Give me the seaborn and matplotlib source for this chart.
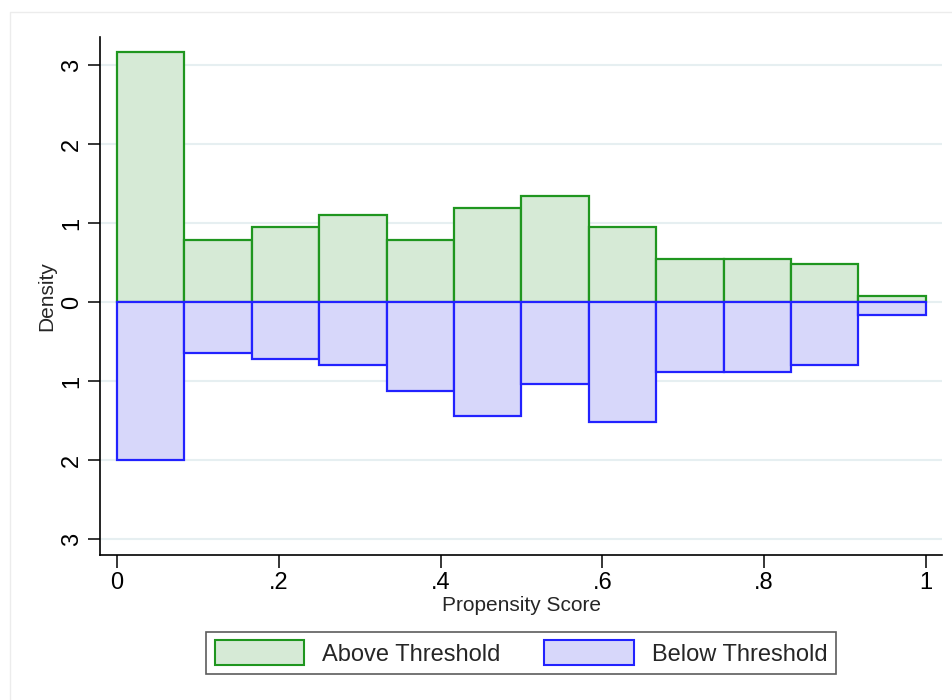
import numpy as np
import pandas as pd
import matplotlib
matplotlib.use("Agg")
import matplotlib.pyplot as plt
from matplotlib.patches import Patch, Rectangle
import seaborn as sns

# ---- data ----
bin_edges = [i / 12 for i in range(13)]
above_density = [3.17, 0.79, 0.95, 1.11, 0.79, 1.19, 1.35, 0.95, 0.55, 0.55, 0.48, 0.08]
below_density = [2.00, 0.64, 0.72, 0.80, 1.12, 1.44, 1.04, 1.52, 0.88, 0.88, 0.80, 0.16]
x_ticks = [0, 0.2, 0.4, 0.6, 0.8, 1.0]
x_ticklabels = ["0", ".2", ".4", ".6", ".8", "1"]
y_ticks = [-3, -2, -1, 0, 1, 2, 3]
y_ticklabels = ["3", "2", "1", "0", "1", "2", "3"]
series_names = ["Above Threshold", "Below Threshold"]

sns.set_theme(style="white")
plt.rcParams["font.family"] = ["Liberation Sans", "DejaVu Sans"]

fig = plt.figure(figsize=(9.52, 7.0), dpi=100)
# faint outer graph-region frame
fig.patches.append(Rectangle((10 / 952, -0.1), 1.2, (700 - 12) / 700 + 0.1,
                             transform=fig.transFigure, fill=False,
                             edgecolor="#ececec", linewidth=1.0, zorder=0))

ax = fig.add_axes([100 / 952, 1 - 555 / 700, 842 / 952, 518 / 700])

centers = [(bin_edges[i] + bin_edges[i + 1]) / 2 for i in range(12)]
df = pd.DataFrame({
    "x": centers,
    "above": above_density,
    "below": [-v for v in below_density],
})

green_edge = "#1f961f"
green_fill = "#d6ead6"
blue_edge = "#2222ff"
blue_fill = "#d7d7fa"

sns.histplot(data=df, x="x", weights="above", bins=bin_edges, stat="count",
             ax=ax, color=green_fill, edgecolor=green_edge, linewidth=1.6,
             alpha=1.0, zorder=3)
sns.histplot(data=df, x="x", weights="below", bins=bin_edges, stat="count",
             ax=ax, color=blue_fill, edgecolor=blue_edge, linewidth=1.6,
             alpha=1.0, zorder=3)

ax.set_xlim(-0.021, 1.02)
ax.set_ylim(-3.2, 3.36)

for yv in y_ticks:
    ax.axhline(yv, color="#e6eff1", linewidth=1.5, zorder=1)

ax.set_xticks(x_ticks)
ax.set_xticklabels(x_ticklabels, fontsize=17)
ax.set_yticks(y_ticks)
ax.set_yticklabels(y_ticklabels, fontsize=17, rotation=90, va="center")
ax.tick_params(axis="both", direction="out", length=9, width=1.1,
               color="black", labelcolor="black", pad=3,
               bottom=True, left=True)

for s in ["top", "right"]:
    ax.spines[s].set_visible(False)
for s in ["left", "bottom"]:
    ax.spines[s].set_color("black")
    ax.spines[s].set_linewidth(1.2)

ax.set_xlabel("Propensity Score", fontsize=15, labelpad=2)
ax.set_ylabel("Density", fontsize=15, labelpad=4)
ax.grid(False)

handles = [Patch(facecolor=green_fill, edgecolor=green_edge, linewidth=1.5),
           Patch(facecolor=blue_fill, edgecolor=blue_edge, linewidth=1.5)]
leg = fig.legend(handles, series_names, loc="center",
                 bbox_to_anchor=(521 / 952, 1 - 653 / 700), ncol=2,
                 fontsize=17, frameon=True, fancybox=False,
                 handlelength=3.8, handleheight=1.2, handletextpad=0.75,
                 columnspacing=1.85, borderpad=0.35, borderaxespad=0.0)
leg.get_frame().set_edgecolor("#333333")
leg.get_frame().set_linewidth(1.2)

fig.savefig("out.png", dpi=100)
